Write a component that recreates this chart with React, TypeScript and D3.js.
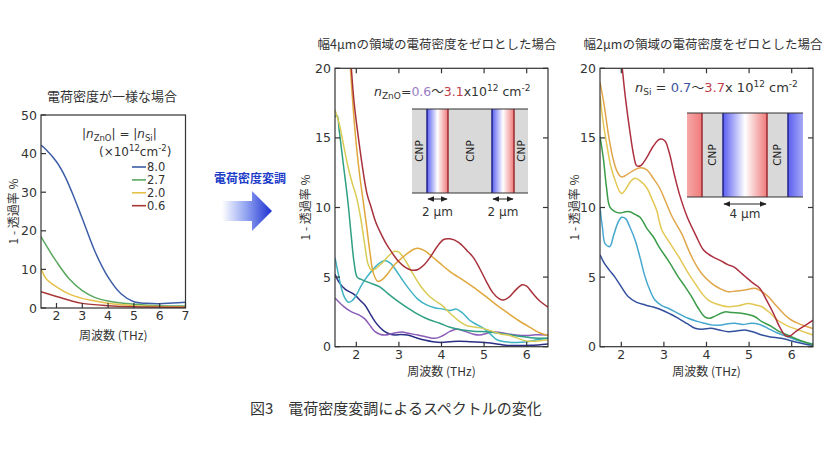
import React from 'react';
import * as d3 from 'd3';

type P = [number, number];

// ---------- Left panel: uniform charge density ----------
const legendLabels = ['8.0', '2.7', '2.0', '0.6'];
const leftXTicks = [2, 3, 4, 5, 6, 7];
const leftYTicks = [0, 10, 20, 30, 40, 50];
const uni80: P[] = [[1.4, 42.2], [1.6, 41], [2.0, 37.9], [2.3, 34.5], [2.6, 30], [3.0, 23.2], [3.5, 14.5], [4.0, 8], [4.5, 3.7], [5.0, 1.6], [5.5, 1.2], [6.0, 1.1], [6.5, 1.3], [7.0, 1.5]];
const uni27: P[] = [[1.4, 18.5], [1.6, 16.2], [2.0, 12], [2.5, 7.5], [3.0, 4.5], [3.5, 2.7], [4.0, 1.8], [4.5, 1.3], [5.0, 1.0], [6.0, 0.6], [7.0, 0.5]];
const uni20: P[] = [[1.4, 10.2], [1.6, 7.6], [2.0, 5.5], [2.5, 3.6], [3.0, 2.5], [3.5, 1.8], [4.0, 1.2], [5.0, 0.6], [6.0, 0.4], [7.0, 0.3]];
const uni06: P[] = [[1.4, 4.2], [2.0, 3.0], [2.5, 2.0], [3.0, 1.2], [4.0, 0.6], [5.0, 0.3], [7.0, 0.2]];

// ---------- Middle panel: 4 um regions set to zero ----------
const midXTicks = [2, 3, 4, 5, 6];
const midYTicks = [0, 5, 10, 15, 20];
const midRed: P[] = [[1.86, 21], [1.95, 17.5], [2.05, 15], [2.15, 12.8], [2.25, 11.0], [2.35, 10.0], [2.45, 9.0], [2.55, 8.3], [2.7, 7.4], [2.85, 6.7], [3.0, 6.1], [3.15, 5.7], [3.3, 5.5], [3.45, 5.55], [3.6, 5.9], [3.75, 6.5], [3.9, 7.2], [4.05, 7.7], [4.2, 7.75], [4.4, 7.5], [4.6, 6.9], [4.75, 6.4], [4.9, 5.6], [5.05, 4.7], [5.2, 3.9], [5.35, 3.45], [5.45, 3.35], [5.6, 3.6], [5.75, 4.1], [5.9, 4.45], [6.0, 4.35], [6.15, 3.8], [6.3, 3.3], [6.5, 2.85]];
const midOrange: P[] = [[1.84, 21], [1.93, 17], [2.0, 14.5], [2.08, 12.3], [2.16, 10.5], [2.24, 8.7], [2.32, 6.8], [2.4, 5.3], [2.5, 4.7], [2.6, 4.8], [2.75, 5.3], [2.9, 5.9], [3.06, 6.35], [3.2, 6.7], [3.35, 7.0], [3.45, 7.07], [3.6, 6.9], [3.75, 6.55], [3.96, 6.0], [4.2, 5.4], [4.5, 4.8], [4.74, 4.3], [5.0, 3.7], [5.25, 3.1], [5.52, 2.5], [5.8, 1.9], [6.1, 1.35], [6.3, 1.0], [6.5, 0.8]];
const midYellow: P[] = [[1.5, 17], [1.6, 16], [1.7, 14.5], [1.8, 13], [1.9, 11.8], [2.0, 10.8], [2.1, 9.3], [2.2, 7.3], [2.28, 5.9], [2.36, 5.5], [2.45, 5.6], [2.6, 6.0], [2.75, 6.5], [2.9, 6.85], [3.0, 6.8], [3.15, 6.2], [3.3, 5.4], [3.5, 4.4], [3.69, 3.7], [3.85, 3.3], [4.0, 3.0], [4.2, 2.4], [4.43, 1.8], [4.6, 1.5], [4.8, 1.4], [5.0, 1.3], [5.2, 1.1], [5.4, 0.9], [5.6, 0.8], [5.8, 0.6], [6.0, 0.4], [6.2, 0.4], [6.5, 0.5]];
const midGreen: P[] = [[1.5, 16.5], [1.55, 16.6], [1.6, 15.5], [1.7, 13], [1.8, 10.5], [1.88, 8], [1.95, 6.0], [2.02, 5.0], [2.1, 4.85], [2.3, 4.6], [2.55, 4.3], [2.75, 3.8], [2.94, 3.35], [3.15, 2.9], [3.41, 2.4], [3.7, 1.95], [3.96, 1.68], [4.2, 1.4], [4.5, 1.2], [4.8, 1.1], [5.05, 1.08], [5.4, 0.95], [5.7, 0.8], [6.1, 0.65], [6.5, 0.6]];
const midCyan: P[] = [[1.5, 6.4], [1.58, 5.2], [1.65, 4.2], [1.73, 3.5], [1.81, 3.2], [1.9, 3.3], [2.0, 3.7], [2.1, 4.3], [2.2, 4.8], [2.35, 5.4], [2.5, 5.9], [2.67, 6.2], [2.8, 6.0], [2.95, 5.4], [3.06, 4.9], [3.2, 4.3], [3.45, 3.4], [3.65, 3.0], [3.84, 2.8], [4.04, 2.7], [4.2, 2.6], [4.35, 2.7], [4.5, 2.4], [4.66, 1.9], [4.85, 1.55], [5.0, 1.3], [5.15, 0.9], [5.3, 0.5], [5.5, 0.35], [5.75, 0.3], [6.0, 0.35], [6.25, 0.5], [6.5, 0.6]];
const midNavy: P[] = [[1.5, 5.2], [1.6, 4.6], [1.75, 4.1], [1.9, 3.85], [1.97, 3.7], [2.1, 3.3], [2.2, 3.0], [2.32, 2.4], [2.44, 1.8], [2.55, 1.4], [2.67, 1.08], [2.8, 0.9], [2.9, 0.84], [3.05, 0.88], [3.2, 0.84], [3.4, 0.65], [3.6, 0.48], [3.8, 0.35], [4.0, 0.3], [4.2, 0.35], [4.4, 0.4], [4.7, 0.35], [5.0, 0.3], [5.3, 0.2], [5.5, 0.1], [5.8, 0.08], [6.1, 0.1], [6.5, 0.2]];
const midPurple: P[] = [[1.5, 3.5], [1.7, 2.9], [1.89, 2.5], [2.05, 2.3], [2.2, 2.0], [2.35, 1.4], [2.44, 1.08], [2.55, 0.9], [2.67, 0.84], [2.85, 0.95], [3.06, 1.05], [3.25, 0.95], [3.45, 0.84], [3.65, 0.7], [3.84, 0.6], [4.0, 0.75], [4.2, 1.1], [4.35, 1.25], [4.55, 1.1], [4.75, 0.9], [4.9, 0.84], [5.05, 0.95], [5.2, 1.08], [5.4, 1.0], [5.6, 0.9], [5.75, 0.84], [6.0, 0.8], [6.2, 0.85], [6.5, 0.84]];

// ---------- Right panel: 2 um regions set to zero ----------
const rightRed: P[] = [[1.99, 21], [2.1, 17.8], [2.2, 15.5], [2.3, 13.6], [2.36, 13.0], [2.45, 13.0], [2.6, 13.6], [2.75, 14.4], [2.9, 14.9], [3.02, 14.8], [3.12, 14.0], [3.25, 12.3], [3.38, 10.8], [3.55, 9.3], [3.75, 8.0], [3.93, 6.95], [4.12, 6.5], [4.32, 6.2], [4.5, 5.9], [4.63, 5.75], [4.85, 5.2], [5.1, 4.55], [5.25, 4.2], [5.4, 3.4], [5.57, 2.4], [5.72, 1.4], [5.85, 0.8], [5.95, 0.75], [6.1, 1.1], [6.3, 1.5], [6.5, 1.9]];
const rightOrange: P[] = [[1.5, 19], [1.6, 17.3], [1.7, 15.2], [1.8, 13.6], [1.9, 12.6], [2.0, 12.2], [2.1, 12.3], [2.25, 12.6], [2.45, 12.85], [2.6, 12.7], [2.75, 12.1], [2.9, 11.4], [3.03, 10.5], [3.2, 9.3], [3.42, 8.1], [3.6, 6.8], [3.73, 6.0], [3.9, 5.2], [4.12, 4.55], [4.3, 4.2], [4.51, 3.95], [4.7, 4.0], [4.9, 4.07], [5.14, 4.2], [5.3, 3.95], [5.45, 3.6], [5.65, 2.9], [5.84, 2.28], [6.0, 1.9], [6.15, 1.68], [6.3, 1.5], [6.5, 1.3]];
const rightYellow: P[] = [[1.5, 18], [1.58, 16], [1.66, 14.5], [1.75, 13], [1.85, 12], [1.95, 11.2], [2.01, 11.0], [2.1, 11.3], [2.2, 11.8], [2.32, 12.1], [2.45, 11.9], [2.6, 11.4], [2.72, 10.6], [2.83, 9.8], [2.95, 8.4], [3.15, 7.4], [3.34, 6.5], [3.55, 5.4], [3.73, 4.55], [3.9, 3.8], [4.04, 3.35], [4.2, 3.1], [4.51, 2.87], [4.75, 2.95], [4.98, 3.1], [5.15, 3.0], [5.3, 2.87], [5.5, 2.4], [5.67, 1.9], [5.9, 1.5], [6.07, 1.3], [6.3, 1.05], [6.5, 0.84]];
const rightGreen: P[] = [[1.5, 15.1], [1.58, 13.5], [1.65, 11.5], [1.73, 10.05], [1.85, 9.7], [1.97, 9.6], [2.1, 9.7], [2.2, 9.7], [2.32, 9.5], [2.44, 9.3], [2.6, 8.5], [2.75, 7.9], [2.9, 7.1], [3.1, 6.2], [3.2, 5.7], [3.34, 5.0], [3.5, 4.3], [3.65, 3.6], [3.8, 2.8], [3.96, 2.15], [4.08, 2.05], [4.2, 2.2], [4.43, 2.5], [4.6, 2.45], [4.82, 2.4], [5.0, 2.3], [5.14, 2.15], [5.3, 1.8], [5.53, 1.44], [5.7, 1.1], [5.9, 0.84], [6.2, 0.45], [6.5, 0.15]];
const rightCyan: P[] = [[1.5, 10.0], [1.56, 8.5], [1.62, 7.4], [1.73, 7.2], [1.82, 8.0], [1.92, 8.9], [2.01, 9.3], [2.1, 9.2], [2.2, 8.6], [2.32, 7.7], [2.44, 6.4], [2.56, 5.0], [2.68, 4.0], [2.79, 3.35], [2.95, 2.95], [3.1, 2.76], [3.3, 2.45], [3.57, 2.04], [3.8, 1.8], [3.96, 1.68], [4.15, 1.55], [4.35, 1.56], [4.5, 1.65], [4.66, 1.68], [4.85, 1.6], [5.05, 1.68], [5.25, 1.6], [5.44, 1.32], [5.65, 1.0], [5.9, 0.72], [6.2, 0.4], [6.5, 0.2]];
const rightNavy: P[] = [[1.5, 6.6], [1.6, 6.0], [1.72, 5.5], [1.85, 5.0], [2.0, 4.3], [2.16, 3.6], [2.35, 3.2], [2.56, 3.0], [2.75, 2.85], [2.95, 2.64], [3.15, 2.35], [3.34, 2.04], [3.55, 1.65], [3.73, 1.32], [3.9, 1.25], [4.1, 1.32], [4.3, 1.2], [4.51, 1.08], [4.7, 1.12], [4.9, 1.2], [5.1, 1.05], [5.3, 0.84], [5.5, 0.7], [5.75, 0.6], [6.07, 0.36], [6.3, 0.2], [6.5, 0.1]];

const NUM = "'DejaVu Sans', 'Noto Sans CJK JP', sans-serif";
const JP = "'Noto Sans CJK JP', sans-serif";
const TXT = '#333';

interface Spec {
  id: string;
  x0: number; x1: number; y0: number; y1: number;
  xDomain: [number, number]; yDomain: [number, number];
  xTicks: number[]; yTicks: number[];
  mirror: boolean; fs: number; xLabY: number; yLabX: number;
}
interface Series { color: string; data: P[] }

function Panel({ spec, series }: { spec: Spec; series: Series[] }) {
  const xs = d3.scaleLinear().domain(spec.xDomain).range([spec.x0, spec.x1]);
  const ys = d3.scaleLinear().domain(spec.yDomain).range([spec.y1, spec.y0]);
  const line = d3.line<P>().x(d => xs(d[0])).y(d => ys(d[1])).curve(d3.curveCatmullRom.alpha(0.5));
  const tl = 5;
  const ymid = (spec.y0 + spec.y1) / 2;
  return (
    <g>
      <defs>
        <clipPath id={spec.id}>
          <rect x={spec.x0} y={spec.y0} width={spec.x1 - spec.x0} height={spec.y1 - spec.y0} />
        </clipPath>
      </defs>
      <g clipPath={`url(#${spec.id})`}>
        {series.map((s, i) => (
          <path key={i} d={line(s.data) || ''} fill="none" stroke={s.color} strokeWidth={1.5} strokeLinejoin="round" />
        ))}
      </g>
      <rect x={spec.x0} y={spec.y0} width={spec.x1 - spec.x0} height={spec.y1 - spec.y0} fill="none" stroke="#333" strokeWidth={1.2} />
      {spec.xTicks.map(t => (
        <g key={'x' + t}>
          <line x1={xs(t)} x2={xs(t)} y1={spec.y1} y2={spec.y1 - tl} stroke="#333" strokeWidth={1.2} />
          {spec.mirror && <line x1={xs(t)} x2={xs(t)} y1={spec.y0} y2={spec.y0 + tl} stroke="#333" strokeWidth={1.2} />}
          <text x={xs(t)} y={spec.y1 + spec.fs - 0.5} textAnchor="middle" fontSize={spec.fs} fontFamily={NUM} fill={TXT}>{t}</text>
        </g>
      ))}
      {spec.yTicks.map(t => (
        <g key={'y' + t}>
          <line x1={spec.x0} x2={spec.x0 + tl} y1={ys(t)} y2={ys(t)} stroke="#333" strokeWidth={1.2} />
          {spec.mirror && <line x1={spec.x1} x2={spec.x1 - tl} y1={ys(t)} y2={ys(t)} stroke="#333" strokeWidth={1.2} />}
          <text x={spec.x0 - 4} y={ys(t)} dy="0.36em" textAnchor="end" fontSize={spec.fs} fontFamily={NUM} fill={TXT}>{t}</text>
        </g>
      ))}
      <text x={(spec.x0 + spec.x1) / 2} y={spec.xLabY} textAnchor="middle" fontSize={12} fontFamily={JP} fill={TXT}>周波数 (THz)</text>
      <text transform={`translate(${spec.yLabX},${ymid}) rotate(-90)`} textAnchor="middle" dy="0.35em" fontSize={12} fontFamily={JP} fill={TXT}>1 - 透過率 %</text>
    </g>
  );
}

const leftSpec: Spec = { id: 'cpL', x0: 41, x1: 185.5, y0: 115, y1: 308, xDomain: [1.4, 7], yDomain: [0, 50], xTicks: leftXTicks, yTicks: leftYTicks, mirror: false, fs: 12.5, xLabY: 340, yLabX: 14 };
const midSpec: Spec = { id: 'cpM', x0: 335, x1: 548, y0: 68.3, y1: 346.7, xDomain: [1.5, 6.5], yDomain: [0, 20], xTicks: midXTicks, yTicks: midYTicks, mirror: true, fs: 12.5, xLabY: 376, yLabX: 306 };
const rightSpec: Spec = { id: 'cpR', x0: 600, x1: 813, y0: 68.3, y1: 346.7, xDomain: [1.5, 6.5], yDomain: [0, 20], xTicks: midXTicks, yTicks: midYTicks, mirror: true, fs: 12.5, xLabY: 376, yLabX: 575 };

const leftColors = ['#3d5ea6', '#5aa860', '#e6c24a', '#a83838'];

function Sub({ children, s = 9 }: { children: React.ReactNode; s?: number }) {
  return <tspan fontSize={s} dy={3}>{children}</tspan>;
}

export default function App() {
  const leftSeries: Series[] = [uni80, uni27, uni20, uni06].map((d, i) => ({ color: leftColors[i], data: d }));
  const midSeries: Series[] = [
    { color: '#2b2f85', data: midNavy },
    { color: '#8a5cb8', data: midPurple },
    { color: '#3fb3c4', data: midCyan },
    { color: '#2e9f83', data: midGreen },
    { color: '#d9cc55', data: midYellow },
    { color: '#e0a83c', data: midOrange },
    { color: '#a8323c', data: midRed },
  ];
  const rightSeries: Series[] = [
    { color: '#33509e', data: rightNavy },
    { color: '#46a7cf', data: rightCyan },
    { color: '#3a9c48', data: rightGreen },
    { color: '#e3c854', data: rightYellow },
    { color: '#e0a64a', data: rightOrange },
    { color: '#ad3040', data: rightRed },
  ];
  return (
    <svg width={828} height={462} style={{ display: 'block', position: 'absolute', left: 0, top: 0 }} xmlns="http://www.w3.org/2000/svg">
      <defs>
        <linearGradient id="gBWR" x1="0" x2="1" y1="0" y2="0">
          <stop offset="0" stopColor="#5a5ef0" />
          <stop offset="0.5" stopColor="#ffffff" />
          <stop offset="1" stopColor="#f07a7a" />
        </linearGradient>
        <linearGradient id="gWR" x1="0" x2="1" y1="0" y2="0">
          <stop offset="0" stopColor="#f6a8a8" />
          <stop offset="1" stopColor="#f07a7a" />
        </linearGradient>
        <linearGradient id="gBW" x1="0" x2="1" y1="0" y2="0">
          <stop offset="0" stopColor="#5a5ef0" />
          <stop offset="1" stopColor="#a8aaf6" />
        </linearGradient>
        <linearGradient id="gArrow" x1="0" x2="1" y1="0" y2="0">
          <stop offset="0" stopColor="#ffffff" />
          <stop offset="0.5" stopColor="#8ea0f0" />
          <stop offset="1" stopColor="#1b2fd0" />
        </linearGradient>
        <marker id="ah" viewBox="0 0 10 10" refX="9" refY="5" markerWidth="7" markerHeight="7" orient="auto-start-reverse">
          <path d="M0,1 L10,5 L0,9 z" fill="#222" />
        </marker>
      </defs>
      <rect width={828} height={462} fill="#fff" />

      {/* Left panel */}
      <text x={112} y={101} textAnchor="middle" fontSize={13} fontFamily={JP} fill={TXT}>電荷密度が一様な場合</text>
      <Panel spec={leftSpec} series={leftSeries} />
      <text x={82} y={138} fontSize={12} fontFamily={NUM} fill={TXT}>|<tspan fontStyle="italic">n</tspan><Sub s={8.5}>ZnO</Sub><tspan dy={-3}>| = |</tspan><tspan fontStyle="italic">n</tspan><Sub s={8.5}>Si</Sub><tspan dy={-3}>|</tspan></text>
      <text x={99} y={156} fontSize={12} fontFamily={NUM} fill={TXT}>(×10<tspan fontSize={8.5} dy={-5}>12</tspan><tspan dy={5}>cm</tspan><tspan fontSize={8.5} dy={-5}>-2</tspan><tspan dy={5}>)</tspan></text>
      {legendLabels.map((lab, i) => (
        <g key={lab}>
          <line x1={132} x2={146} y1={167 + i * 12.9} y2={167 + i * 12.9} stroke={leftColors[i]} strokeWidth={1.6} />
          <text x={147} y={167 + i * 12.9} dy="0.36em" fontSize={11.5} fontFamily={NUM} fill={TXT}>{lab}</text>
        </g>
      ))}

      {/* Arrow */}
      <text x={250} y={183} textAnchor="middle" fontSize={12} fontWeight="bold" fontFamily={JP} fill="#1c3cc8">電荷密度変調</text>
      <path d="M222,201 L252,201 L252,191 L272,211 L252,231 L252,221 L222,221 Z" fill="url(#gArrow)" />

      {/* Middle panel */}
      <text x={437} y={49} textAnchor="middle" fontSize={12.5} fontFamily={JP} fill={TXT}>幅4μmの領域の電荷密度をゼロとした場合</text>
      <Panel spec={midSpec} series={midSeries} />
      <text x={374} y={96} fontSize={12.5} fontFamily={NUM} fill={TXT}>
        <tspan fontStyle="italic">n</tspan><Sub>ZnO</Sub><tspan dy={-3}>=</tspan><tspan fill="#9a7cc4">0.6</tspan><tspan fontFamily={JP}>～</tspan><tspan fill="#c0404a">3.1</tspan><tspan>x10</tspan><tspan fontSize={9} dy={-5}>12</tspan><tspan dy={5}> cm</tspan><tspan fontSize={9} dy={-5}>-2</tspan>
      </text>
      <g>
        <rect x={412} y={109} width={116} height={84} fill="#d9d9d9" />
        <rect x={427} y={109} width={21} height={84} fill="url(#gBWR)" />
        <rect x={492} y={109} width={22} height={84} fill="url(#gBWR)" />
        <line x1={427} x2={427} y1={109} y2={193} stroke="#22238a" strokeWidth={1.5} />
        <line x1={448} x2={448} y1={109} y2={193} stroke="#9a2a30" strokeWidth={1.5} />
        <line x1={492} x2={492} y1={109} y2={193} stroke="#22238a" strokeWidth={1.5} />
        <line x1={514} x2={514} y1={109} y2={193} stroke="#9a2a30" strokeWidth={1.5} />
        <line x1={412} x2={528} y1={109} y2={109} stroke="#333" strokeWidth={1.2} />
        <line x1={412} x2={528} y1={193} y2={193} stroke="#333" strokeWidth={1.2} />
        {[419.5, 470, 521].map(cx => (
          <text key={cx} transform={`translate(${cx},151) rotate(-90)`} textAnchor="middle" dy="0.35em" fontSize={10.5} fontFamily={NUM} fill="#222">CNP</text>
        ))}
        <line x1={428} x2={447} y1={199} y2={199} stroke="#222" strokeWidth={1} markerStart="url(#ah)" markerEnd="url(#ah)" />
        <line x1={493} x2={513} y1={199} y2={199} stroke="#222" strokeWidth={1} markerStart="url(#ah)" markerEnd="url(#ah)" />
        <text x={437.5} y={216} textAnchor="middle" fontSize={12} fontFamily={NUM} fill={TXT}>2 μm</text>
        <text x={503} y={216} textAnchor="middle" fontSize={12} fontFamily={NUM} fill={TXT}>2 μm</text>
      </g>

      {/* Right panel */}
      <text x={703} y={49} textAnchor="middle" fontSize={12.5} fontFamily={JP} fill={TXT}>幅2μmの領域の電荷密度をゼロとした場合</text>
      <Panel spec={rightSpec} series={rightSeries} />
      <text x={635} y={92} fontSize={13} fontFamily={NUM} fill={TXT}>
        <tspan fontStyle="italic">n</tspan><Sub>Si</Sub><tspan dy={-3}> = </tspan><tspan fill="#3d55a0">0.7</tspan><tspan fontFamily={JP}>～</tspan><tspan fill="#c0404a">3.7</tspan><tspan>x 10</tspan><tspan fontSize={9} dy={-5}>12</tspan><tspan dy={5}> cm</tspan><tspan fontSize={9} dy={-5}>-2</tspan>
      </text>
      <g>
        <rect x={687} y={113} width={116} height={84} fill="#d9d9d9" />
        <rect x={687} y={113} width={15} height={84} fill="url(#gWR)" />
        <rect x={723} y={113} width={44} height={84} fill="url(#gBWR)" />
        <rect x={788} y={113} width={15} height={84} fill="url(#gBW)" />
        <line x1={702} x2={702} y1={113} y2={197} stroke="#9a2a30" strokeWidth={1.5} />
        <line x1={723} x2={723} y1={113} y2={197} stroke="#22238a" strokeWidth={1.5} />
        <line x1={767} x2={767} y1={113} y2={197} stroke="#9a2a30" strokeWidth={1.5} />
        <line x1={788} x2={788} y1={113} y2={197} stroke="#22238a" strokeWidth={1.5} />
        <line x1={687} x2={803} y1={113} y2={113} stroke="#333" strokeWidth={1.2} />
        <line x1={687} x2={803} y1={197} y2={197} stroke="#333" strokeWidth={1.2} />
        {[712.5, 777.5].map(cx => (
          <text key={cx} transform={`translate(${cx},155) rotate(-90)`} textAnchor="middle" dy="0.35em" fontSize={10.5} fontFamily={NUM} fill="#222">CNP</text>
        ))}
        <line x1={724} x2={766} y1={204} y2={204} stroke="#222" strokeWidth={1} markerStart="url(#ah)" markerEnd="url(#ah)" />
        <text x={745} y={218} textAnchor="middle" fontSize={12} fontFamily={NUM} fill={TXT}>4 μm</text>
      </g>

      {/* Caption */}
      <text x={250} y={414} fontSize={15} fontFamily={JP} fill={TXT}>図3　電荷密度変調によるスペクトルの変化</text>
    </svg>
  );
}
